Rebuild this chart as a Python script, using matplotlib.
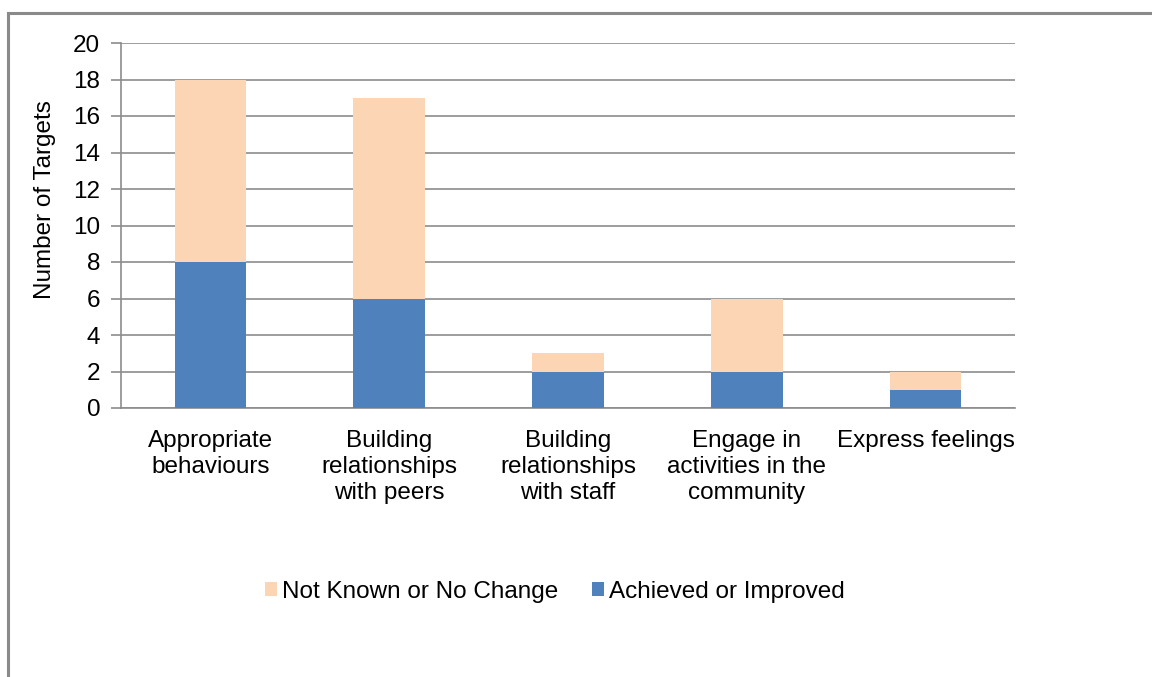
import matplotlib
matplotlib.use("Agg")
import matplotlib.pyplot as plt
from matplotlib.lines import Line2D

plt.rcParams['font.family'] = ['Liberation Sans', 'DejaVu Sans']

categories = ["Appropriate\nbehaviours", "Building\nrelationships\nwith peers",
              "Building\nrelationships\nwith staff", "Engage in\nactivities in the\ncommunity",
              "Express feelings"]
achieved = [8, 6, 2, 2, 1]
not_known = [10, 11, 1, 4, 1]
yticks = list(range(0, 21, 2))

blue = "#4F81BD"
peach = "#FCD5B5"
grid = "#8C8C8C"
fs = 17.5

W, H = 1152, 677
fig = plt.figure(figsize=(W / 100, H / 100), dpi=100)
ax = fig.add_axes([121 / W, 1 - 408 / H, (1015 - 121) / W, (408 - 43) / H])

x = list(range(len(categories)))
ax.bar(x, achieved, width=0.4, color=blue, label="Achieved or Improved", zorder=3)
ax.bar(x, not_known, width=0.4, bottom=achieved, color=peach,
       label="Not Known or No Change", zorder=3)

ax.set_xlim(-0.5, len(categories) - 0.5)
ax.set_ylim(0, 20)
ax.set_yticks(yticks)
ax.set_yticklabels([str(v) for v in yticks], fontsize=fs)
ax.set_xticks(x)
ax.set_xticklabels(categories, fontsize=fs, linespacing=1.22, va="top")
ax.tick_params(axis="x", length=0, pad=16)
ax.tick_params(axis="y", length=7, width=1.2, color=grid, pad=8)
ax.yaxis.grid(True, color=grid, linewidth=1.2, zorder=0)
for s in ("top", "right"):
    ax.spines[s].set_visible(False)
ax.spines["left"].set_color(grid)
ax.spines["left"].set_linewidth(1.2)
ax.spines["bottom"].set_color(grid)
ax.spines["bottom"].set_linewidth(1.2)
ax.set_ylabel("Number of Targets", fontsize=fs)
ax.yaxis.set_label_coords(-0.073, 0.57)

handles, labels = ax.get_legend_handles_labels()
leg = fig.legend(handles[::-1], labels[::-1], loc="center", bbox_to_anchor=(555 / W, 1 - 592 / H),
                 ncol=2, frameon=False, fontsize=fs, handlelength=0.5, handleheight=0.5,
                 handletextpad=0.2, columnspacing=1.4)

# outer frame on the top and left edges
fig.add_artist(Line2D([7.5 / W, 7.5 / W], [0, 1 - 13 / H], transform=fig.transFigure,
                      color="#8A8A8A", linewidth=2.2))
fig.add_artist(Line2D([7.5 / W, 1], [1 - 13 / H, 1 - 13 / H], transform=fig.transFigure,
                      color="#8A8A8A", linewidth=2.2))

fig.savefig("out.png", dpi=100)
